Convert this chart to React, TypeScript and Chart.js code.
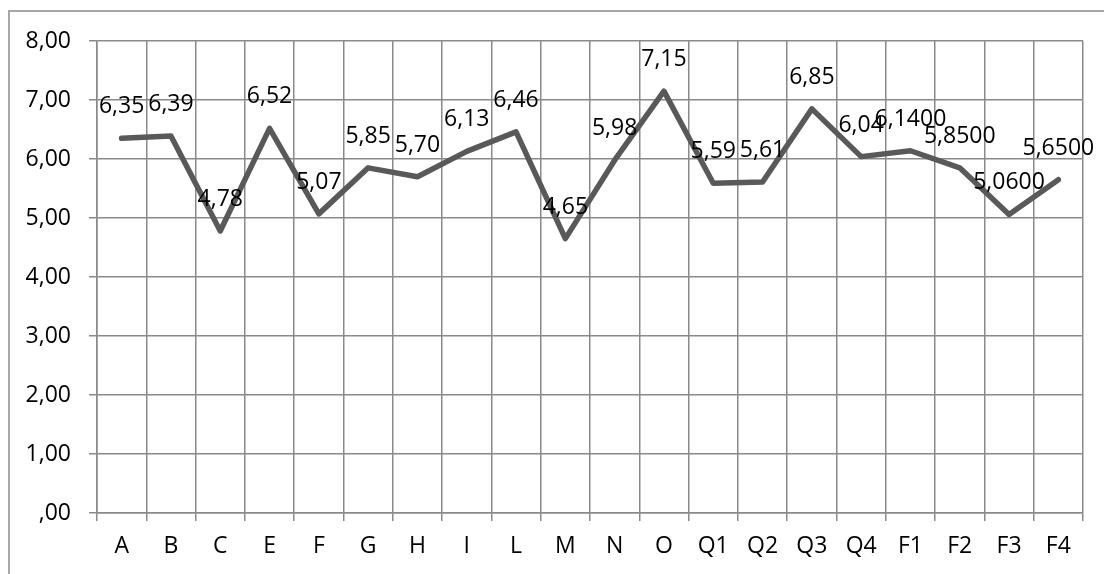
import React, { useEffect, useRef } from "react";
import { Chart, registerables } from "chart.js";

Chart.register(...registerables);

const categories = ["A", "B", "C", "E", "F", "G", "H", "I", "L", "M", "N", "O", "Q1", "Q2", "Q3", "Q4", "F1", "F2", "F3", "F4"];
const values = [6.35, 6.39, 4.78, 6.52, 5.07, 5.85, 5.70, 6.13, 6.46, 4.65, 5.98, 7.15, 5.59, 5.61, 6.85, 6.04, 6.14, 5.85, 5.06, 5.65];
const labelDecimals = [2, 2, 2, 2, 2, 2, 2, 2, 2, 2, 2, 2, 2, 2, 2, 2, 4, 4, 4, 4];
const yTicks = [0, 1, 2, 3, 4, 5, 6, 7, 8];

const FONT = '"Open Sans", "Noto Sans", sans-serif';
const FONT_SIZE = 23;
const GRID = "#8a8a8a";

const fmt = (v: number, d: number) => {
  const s = v.toFixed(d).replace(".", ",");
  return s.startsWith("0,") ? s.slice(1) : s;
};

const labelPlugin = {
  id: "pointLabels",
  afterDatasetsDraw(chart: any) {
    const ctx = chart.ctx;
    const meta = chart.getDatasetMeta(0);
    ctx.save();
    ctx.font = `${FONT_SIZE}px ${FONT}`;
    ctx.fillStyle = "#000";
    ctx.textAlign = "center";
    ctx.textBaseline = "alphabetic";
    meta.data.forEach((pt: any, i: number) => {
      ctx.fillText(fmt(values[i], labelDecimals[i]), pt.x, pt.y - 25);
    });
    ctx.restore();
  },
};

export default function App() {
  const ref = useRef<HTMLCanvasElement | null>(null);
  useEffect(() => {
    if (!ref.current) return;
    const chart = new Chart(ref.current, {
      type: "line",
      data: {
        labels: categories,
        datasets: [
          {
            data: values,
            borderColor: "#595959",
            borderWidth: 5.5,
            borderCapStyle: "round",
            borderJoinStyle: "round",
            pointRadius: 0,
            tension: 0,
            fill: false,
          },
        ],
      },
      options: {
        responsive: false,
        animation: false,
        layout: { padding: { left: 26, right: 21, top: 41, bottom: 14 } },
        plugins: { legend: { display: false }, tooltip: { enabled: false } },
        scales: {
          x: {
            offset: true,
            afterFit: (scale: any) => {
              scale.height = 47;
            },
            grid: { offset: true, color: GRID, lineWidth: 1.5, tickLength: 8, drawTicks: true, tickColor: GRID },
            border: { color: GRID, width: 1.5 },
            ticks: { color: "#000", font: { family: FONT, size: FONT_SIZE }, padding: 12, maxRotation: 0, autoSkip: false },
          },
          y: {
            min: 0,
            max: 8,
            afterBuildTicks: (scale: any) => {
              scale.ticks = yTicks.map((v) => ({ value: v }));
            },
            afterFit: (scale: any) => {
              scale.width = 71;
            },
            grid: { color: GRID, lineWidth: 1.5, tickLength: 8, drawTicks: true, tickColor: GRID },
            border: { color: GRID, width: 1.5 },
            ticks: {
              color: "#000",
              font: { family: FONT, size: FONT_SIZE },
              padding: 18,
              callback: (v: any) => fmt(Number(v), 2),
            },
          },
        },
      },
      plugins: [labelPlugin],
    });
    return () => chart.destroy();
  }, []);

  return (
    <div style={{ position: "absolute", left: 0, top: 0, width: 1104, height: 574, overflow: "hidden", background: "#fff" }}>
      <div
        style={{
          position: "absolute",
          left: 8,
          top: 10,
          width: 1096,
          height: 564,
          borderLeft: "2px solid #a8a8a8",
          borderTop: "2px solid #a8a8a8",
          boxSizing: "border-box",
        }}
      />
      <canvas ref={ref} width={1104} height={574} style={{ position: "absolute", left: 0, top: 0, display: "block" }} />
    </div>
  );
}
